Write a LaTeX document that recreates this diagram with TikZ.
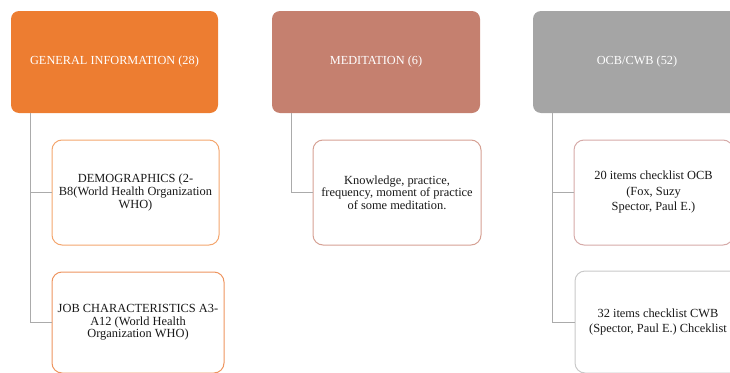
\documentclass[tikz,border=0pt]{standalone}
\usepackage{fontspec}
\setmainfont{Liberation Serif}
\definecolor{gorange}{HTML}{ED7D31}
\definecolor{gmed}{HTML}{C5806F}
\definecolor{ggrey}{HTML}{A5A5A5}
\definecolor{bdemo}{HTML}{F4A66E}
\definecolor{bjob}{HTML}{EE9560}
\definecolor{bmed}{HTML}{D6A194}
\definecolor{bocb}{HTML}{D6AAA8}
\definecolor{bcwb}{HTML}{C9C9C9}
\definecolor{conncol}{HTML}{ABABAB}
\tikzset{
  hdr/.style={rounded corners=8pt, minimum width=207pt, minimum height=102pt, inner sep=0pt,
    text=white, align=center, font=\fontsize{12.3}{12.6}\selectfont},
  child/.style={draw, fill=white, line width=1pt, rounded corners=10pt, inner sep=0pt, align=center,
    font=\fontsize{12.4}{12.6}\selectfont, text=black!90},
  conn/.style={draw=conncol, line width=1pt}
}
\begin{document}
\begin{tikzpicture}[x=1pt,y=-1pt]
\useasboundingbox (0,0) rectangle (730,372);
\clip (0,0) rectangle (730,372);
% headers
\node[hdr, fill=gorange] (g) at (114.5,62) {GENERAL INFORMATION (28)};
\node[hdr, fill=gmed, minimum width=208pt] (m) at (376,62) {MEDITATION (6)};
\node[hdr, fill=ggrey, minimum width=208pt] (o) at (637,62) {OCB/CWB (52)};
% children
\node[child, draw=bdemo, minimum width=167pt, minimum height=105pt] (d) at (135.5,192.5)
  {DEMOGRAPHICS (2-\\B8(World Health Organization\\WHO)};
\node[child, draw=bjob, minimum width=172pt, minimum height=101pt] (j) at (138,322.5)
  {JOB CHARACTERISTICS A3-\\A12 (World Health\\Organization WHO)};
\node[child, draw=bmed, minimum width=168pt, minimum height=105pt] (k) at (397,192.5)
  {Knowledge, practice,\\frequency, moment of practice\\of some meditation.};
\node[child, draw=bocb, minimum width=159pt, minimum height=105pt, font=\fontsize{12.4}{15.5}\selectfont] (c1) at (653.5,192.5)
  {20 items checklist OCB\\(Fox, Suzy\\Spector, Paul E.)};
\node[child, draw=bcwb, minimum width=166pt, minimum height=102pt, font=\fontsize{12.4}{15.5}\selectfont] (c2) at (658,322)
  {32 items checklist CWB\\(Spector, Paul E.) Chceklist};
% connectors
\draw[conn] ([xshift=20pt]g.south west) |- (d.west);
\draw[conn] ([xshift=20pt]g.south west) |- (j.west);
\draw[conn] ([xshift=20pt]m.south west) |- (k.west);
\draw[conn] ([xshift=20pt]o.south west) |- (c1.west);
\draw[conn] ([xshift=20pt]o.south west) |- (c2.west);
\end{tikzpicture}
\end{document}
